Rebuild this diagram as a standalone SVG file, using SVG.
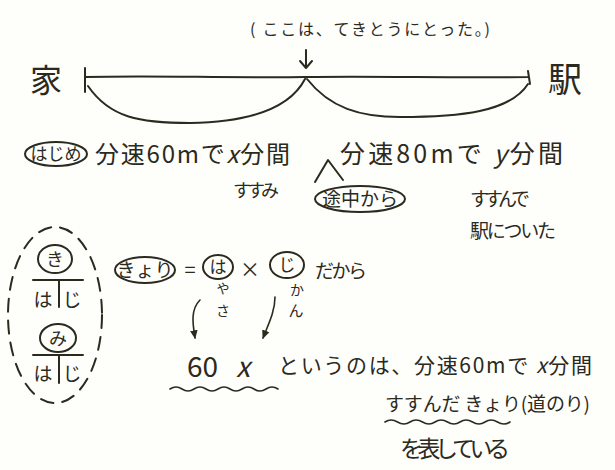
<svg xmlns="http://www.w3.org/2000/svg" width="615" height="470" viewBox="0 0 615 470">
<defs>
<style>
.t{font-family:"Noto Sans CJK JP","Noto Sans",sans-serif;fill:#2b2a1e;}
.ln{fill:none;stroke:#2b2a1e;stroke-width:2;stroke-linecap:round;stroke-linejoin:round;}
.thin{fill:none;stroke:#2b2a1e;stroke-width:1.6;stroke-linecap:round;}
</style>
<marker id="ah" viewBox="0 0 10 10" refX="8" refY="5" markerWidth="6" markerHeight="6" orient="auto">
<path d="M0,1 L9,5 L0,9 Z" fill="#2b2a1e"/>
</marker>
</defs>
<rect width="615" height="470" fill="#fefefb"/>

<g id="header">
<text class="t" x="250" y="35" font-size="16" textLength="240">( ここは、てきとうにとった。)</text>
<path class="ln" d="M306,50 L306,68 M300,61 L306,68 L312,61"/>
</g>

<g id="ie"><text class="t" x="30" y="92" font-size="32">家</text></g>
<g id="eki"><text class="t" x="548" y="92" font-size="34">駅</text></g>

<g id="connectors">
<path class="ln" d="M85,68 L85,92 M85,77 C150,75 220,78 305,77 C380,76 450,78 528,77 M528,71 L530,84"/>
<path class="ln" d="M88,86 C110,118 140,123 190,123 C250,122 290,108 305,79"/>
<path class="ln" d="M307,79 C330,108 360,117 400,117 C460,117 510,112 528,84"/>
<path class="ln" d="M315,182 L328,160 L343,180"/>
<path class="thin" marker-end="url(#ah)" d="M200,300 C190,310 193,325 195,338"/>
<path class="thin" marker-end="url(#ah)" d="M275,297 C275,312 268,325 263,338"/>
</g>

<g id="hajime">
<ellipse class="ln" cx="56" cy="154" rx="31" ry="12"/>
<text class="t" x="56" y="160" font-size="17" text-anchor="middle">はじめ</text>
</g>
<g id="first">
<text class="t" x="95" y="163" font-size="24" textLength="195">分速60mで<tspan font-style="italic">x</tspan>分間</text>
<text class="t" x="233" y="197" font-size="18" textLength="46">すすみ</text>
</g>
<g id="second">
<text class="t" x="340" y="163" font-size="25" textLength="223">分速80mで <tspan font-style="italic">y</tspan>分間</text>
<text class="t" x="470" y="206" font-size="19" textLength="60">すすんで</text>
<text class="t" x="470" y="238" font-size="19" textLength="86">駅についた</text>
</g>
<g id="tochu">
<ellipse class="ln" cx="360" cy="199" rx="45" ry="13"/>
<text class="t" x="360" y="206" font-size="19" text-anchor="middle">途中から</text>
</g>

<g id="memo">
<ellipse class="ln" cx="55" cy="315" rx="47" ry="88" stroke-dasharray="13 9"/>
<ellipse class="ln" cx="55" cy="259" rx="17" ry="14"/>
<text class="t" x="55" y="266" font-size="18" text-anchor="middle">き</text>
<path class="ln" d="M33,280 L83,280 M59,280 L59,307"/>
<text class="t" x="43" y="307" font-size="19" text-anchor="middle">は</text>
<text class="t" x="72" y="307" font-size="19" text-anchor="middle">じ</text>
<ellipse class="ln" cx="58" cy="338" rx="18" ry="14"/>
<text class="t" x="58" y="345" font-size="18" text-anchor="middle">み</text>
<path class="ln" d="M33,355 L83,355 M59,355 L59,383"/>
<text class="t" x="43" y="381" font-size="19" text-anchor="middle">は</text>
<text class="t" x="72" y="381" font-size="19" text-anchor="middle">じ</text>
</g>

<g id="formula">
<ellipse class="ln" cx="145" cy="270" rx="30" ry="13"/>
<text class="t" x="145" y="277" font-size="19" text-anchor="middle">きょり</text>
<text class="t" x="190" y="277" font-size="20" text-anchor="middle">=</text>
<ellipse class="ln" cx="218" cy="267" rx="15" ry="12"/>
<text class="t" x="218" y="273" font-size="17" text-anchor="middle">は</text>
<text class="t" x="250" y="277" font-size="20" text-anchor="middle">×</text>
<ellipse class="ln" cx="287" cy="265" rx="17" ry="13"/>
<text class="t" x="287" y="271" font-size="17" text-anchor="middle">じ</text>
<text class="t" x="315" y="278" font-size="19" textLength="52">だから</text>
<text class="t" x="223" y="293" font-size="13" text-anchor="middle">や</text>
<text class="t" x="223" y="316" font-size="14" text-anchor="middle">さ</text>
<text class="t" x="297" y="295" font-size="14" text-anchor="middle">か</text>
<text class="t" x="296" y="316" font-size="15" text-anchor="middle">ん</text>
</g>

<g id="explain">
<text class="t" x="187" y="377" font-size="28">60 <tspan x="236" font-style="italic">x</tspan></text>
<path class="thin" d="M170,389 q6,-4 12,0 t12,0 t12,0 t12,0 t12,0 t12,0 t12,0 t12,0 t12,0"/>
<text class="t" x="278" y="373" font-size="21" textLength="314">というのは、分速60mで <tspan font-style="italic">x</tspan>分間</text>
<text class="t" x="385" y="411" font-size="19" textLength="205">すすんだ きょり(道のり)</text>
<path class="thin" d="M385,422 q6,-4 12.5,0 t12.5,0 t12.5,0 t12.5,0 t12.5,0 t12.5,0 t12.5,0 t12.5,0 t12.5,0 t12.5,0"/>
<text class="t" x="400" y="457" font-size="23" textLength="110">を表している</text>
</g>
</svg>
